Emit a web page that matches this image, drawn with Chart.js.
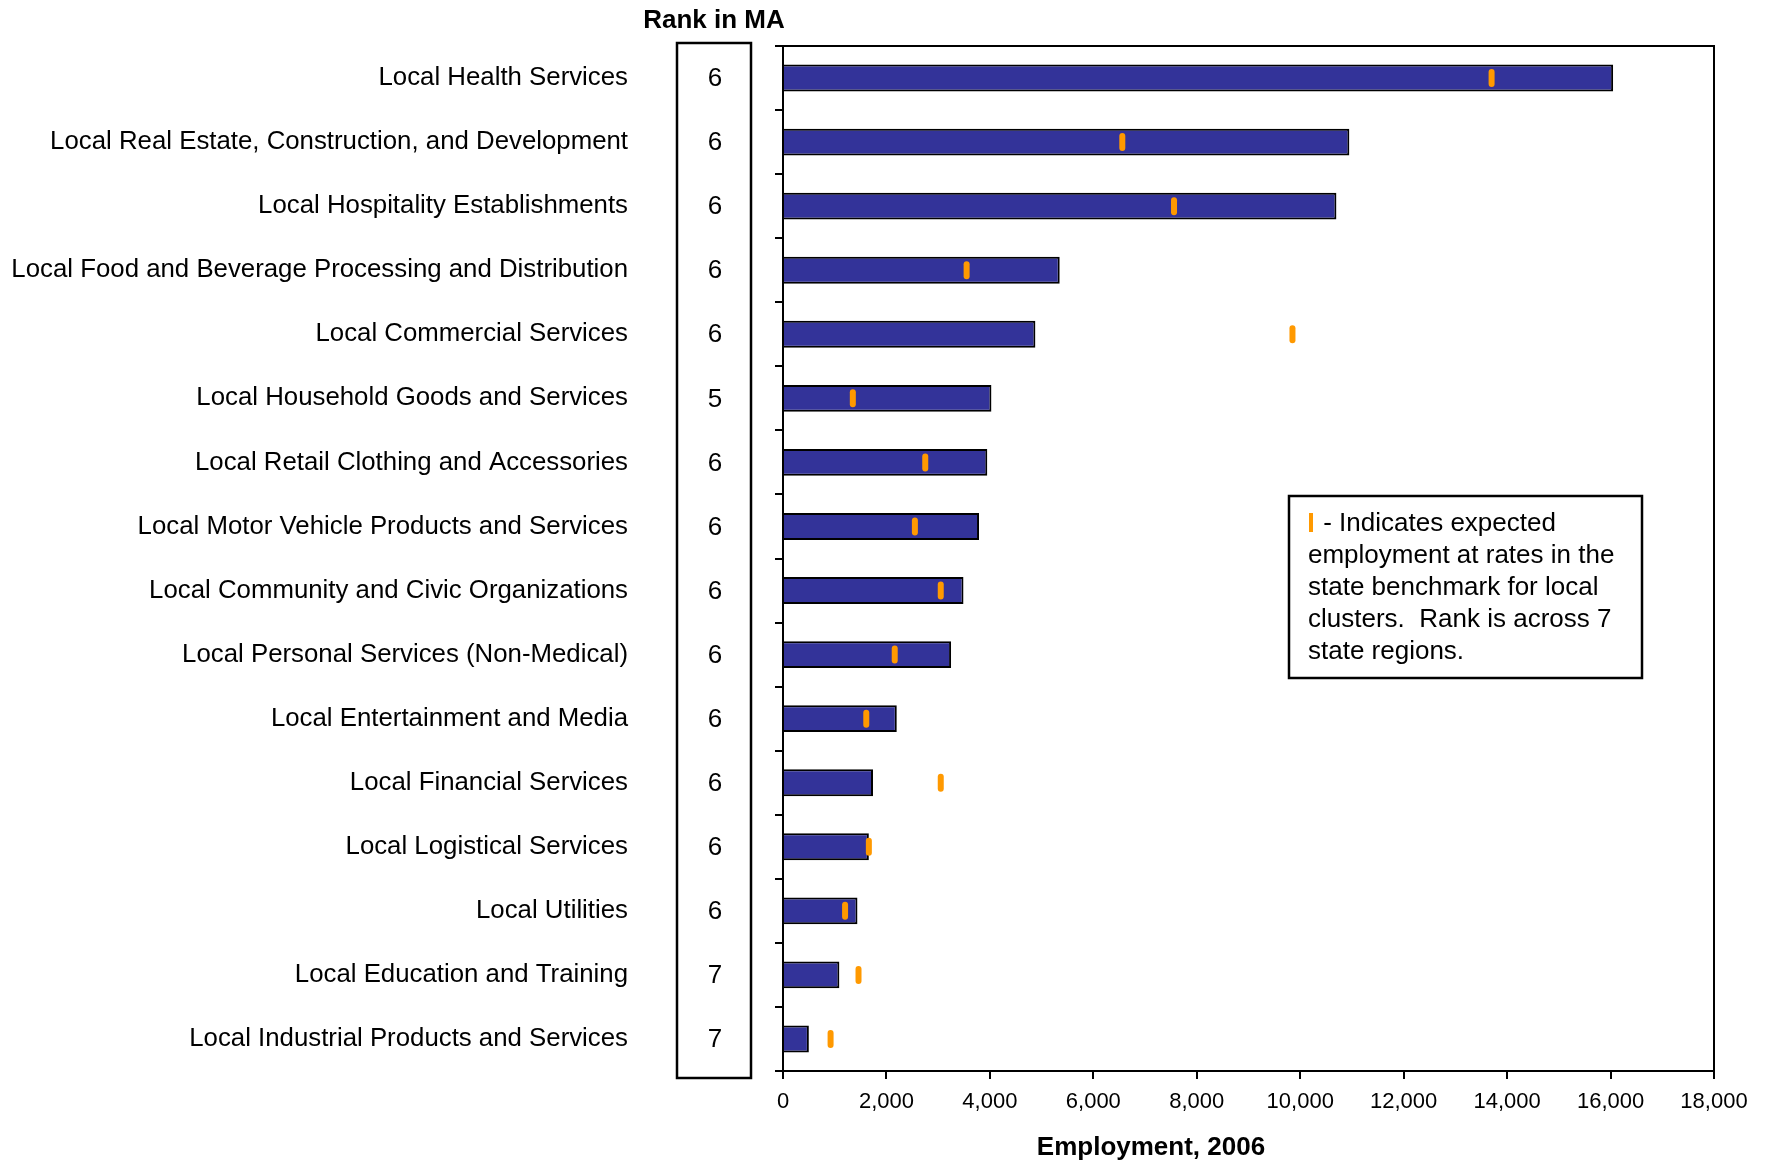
<!DOCTYPE html>
<html>
<head>
<meta charset="utf-8">
<script src="https://cdn.jsdelivr.net/npm/chart.js@4.4.1/dist/chart.umd.min.js"></script>
<style>
  html, body { margin: 0; padding: 0; background: #fff; }
  #wrap { width: 1768px; height: 1165px; }
</style>
</head>
<body>
<div id="wrap"><canvas id="chart" width="1768" height="1165"></canvas></div>
<script>
const categories = [
  'Local Health Services',
  'Local Real Estate, Construction, and Development',
  'Local Hospitality Establishments',
  'Local Food and Beverage Processing and Distribution',
  'Local Commercial Services',
  'Local Household Goods and Services',
  'Local Retail Clothing and Accessories',
  'Local Motor Vehicle Products and Services',
  'Local Community and Civic Organizations',
  'Local Personal Services (Non-Medical)',
  'Local Entertainment and Media',
  'Local Financial Services',
  'Local Logistical Services',
  'Local Utilities',
  'Local Education and Training',
  'Local Industrial Products and Services'
];

// employment 2006
const employment = [16050, 10950, 10700, 5350, 4880, 4030, 3950, 3790, 3490, 3250, 2200, 1740, 1660, 1440, 1090, 500];

// expected employment at state benchmark rates
const expected = [13700, 6560, 7560, 3550, 9850, 1350, 2750, 2550, 3050, 2160, 1610, 3050, 1660, 1200, 1460, 920];

const ranks = [6, 6, 6, 6, 6, 5, 6, 6, 6, 6, 6, 6, 6, 6, 7, 7];

const legendLines = [
  ' - Indicates expected',
  'employment at rates in the',
  'state benchmark for local',
  'clusters.  Rank is across 7',
  'state regions.'
];

const FONT = '"Liberation Sans", Arial, sans-serif';

// rounded ends for the orange markers
const roundCaps = {
  id: 'roundCaps',
  beforeDatasetDraw(chart, args) {
    if (args.index === 0) chart.ctx.lineCap = 'round';
  },
  afterDatasetDraw(chart, args) {
    if (args.index === 0) chart.ctx.lineCap = 'butt';
  }
};

// frame, rank column, legend box, axis title
const extras = {
  id: 'extras',
  afterDraw(chart) {
    const ctx = chart.ctx;
    const area = chart.chartArea;
    const y = chart.scales.y;
    ctx.save();

    // top + right border of plot
    ctx.strokeStyle = '#000';
    ctx.lineWidth = 2;
    ctx.beginPath();
    ctx.moveTo(area.left, area.top);
    ctx.lineTo(area.right, area.top);
    ctx.lineTo(area.right, area.bottom);
    ctx.stroke();

    // rank column
    ctx.lineWidth = 2.5;
    ctx.strokeRect(677, 43, 74, 1035);
    ctx.fillStyle = '#000';
    ctx.font = 'bold 26px ' + FONT;
    ctx.textAlign = 'center';
    ctx.textBaseline = 'middle';
    ctx.fillText('Rank in MA', 714, 21);
    ctx.font = '26px ' + FONT;
    ranks.forEach((r, i) => {
      ctx.fillText(String(r), 715, y.getPixelForValue(i) + 1);
    });

    // axis title
    ctx.font = 'bold 26px ' + FONT;
    ctx.fillText('Employment, 2006', 1151, 1148);

    // note box
    ctx.lineWidth = 2.5;
    ctx.strokeRect(1289, 496, 353, 182);
    ctx.font = '26px ' + FONT;
    ctx.textAlign = 'left';
    ctx.fillStyle = '#ff9900';
    ctx.fillRect(1309, 513, 4, 19);
    ctx.fillStyle = '#000';
    legendLines.forEach((t, i) => {
      ctx.fillText(t, i === 0 ? 1316 : 1308, 524 + i * 32);
    });

    ctx.restore();
  }
};

new Chart(document.getElementById('chart'), {
  data: {
    labels: categories,
    datasets: [
      {
        type: 'line',
        label: 'Expected',
        data: expected,
        indexAxis: 'y',
        showLine: false,
        pointStyle: 'line',
        rotation: 90,
        pointRadius: 6,
        pointBorderWidth: 6,
        pointBorderColor: '#ff9900',
        pointBackgroundColor: '#ff9900',
        order: 0
      },
      {
        type: 'bar',
        label: 'Employment, 2006',
        data: employment,
        backgroundColor: '#333399',
        borderColor: '#000',
        borderWidth: 2,
        categoryPercentage: 1,
        barPercentage: 0.42,
        order: 1
      }
    ]
  },
  options: {
    indexAxis: 'y',
    responsive: false,
    animation: false,
    devicePixelRatio: 1,
    layout: {
      padding: { top: 46, right: 54, bottom: 0, left: 0 }
    },
    plugins: {
      legend: { display: false },
      tooltip: { enabled: false }
    },
    scales: {
      x: {
        min: 0,
        max: 18000,
        afterFit(scale) { scale.height = 94; },
        ticks: {
          stepSize: 2000,
          color: '#000',
          padding: 10,
          font: { family: FONT, size: 22 }
        },
        grid: {
          drawOnChartArea: false,
          tickLength: 8,
          color: '#000',
          lineWidth: 2
        },
        border: { color: '#000', width: 2 }
      },
      y: {
        afterFit(scale) {
          scale.width = 783;
          scale.paddingTop = 0;
          scale.paddingBottom = 0;
        },
        ticks: {
          color: '#000',
          padding: 147,
          font: { family: FONT, size: 25.8 }
        },
        grid: {
          offset: true,
          drawOnChartArea: false,
          tickLength: 8,
          color: '#000',
          lineWidth: 2
        },
        border: { color: '#000', width: 2 }
      }
    }
  },
  plugins: [roundCaps, extras]
});
</script>
</body>
</html>
